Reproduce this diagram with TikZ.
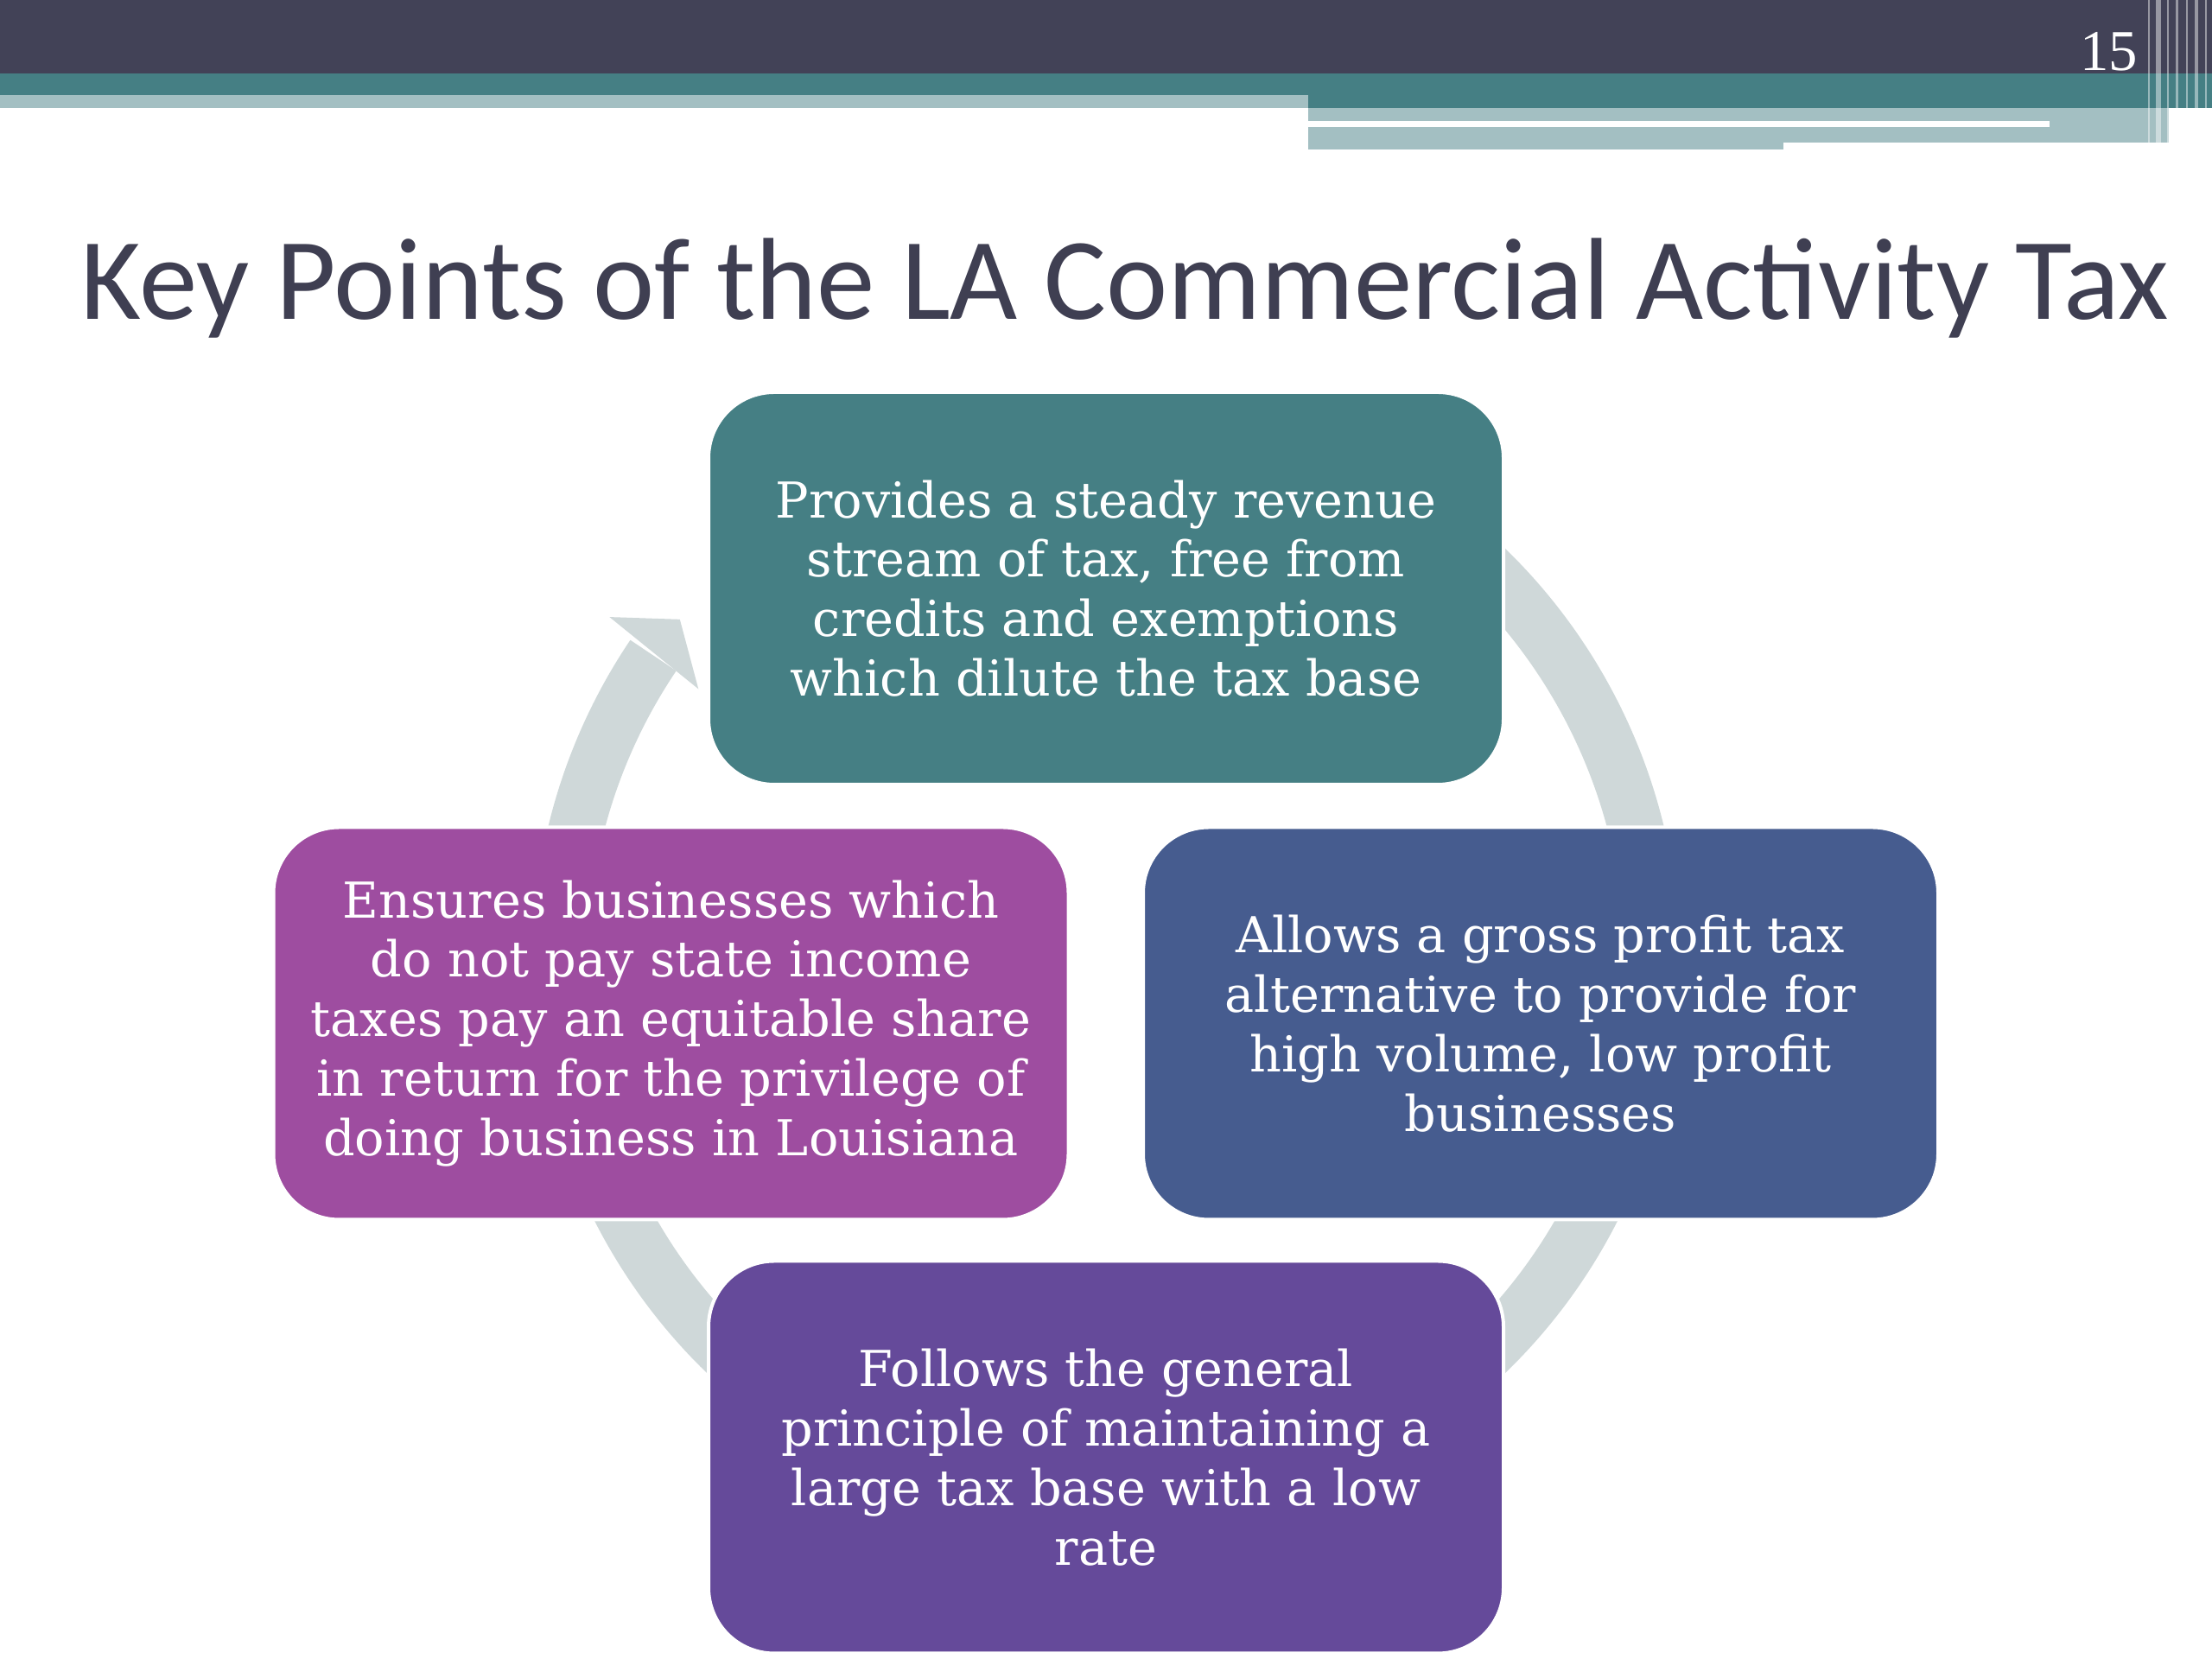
\documentclass[tikz,border=0pt]{standalone}
\usepackage{fontspec}
\setmainfont{DejaVu Serif}
\newfontfamily\titlefont{Carlito}
\newfontfamily\pagefont{Liberation Serif}
\usepackage{xcolor}
\definecolor{slatebar}{HTML}{424257}
\definecolor{tealbar}{HTML}{457F84}
\definecolor{paleteal}{HTML}{A3BFC2}
\definecolor{titlegrey}{HTML}{3F3F52}
\definecolor{ringgrey}{HTML}{CFD8D9}
\definecolor{tealbox}{HTML}{457F84}
\definecolor{plumbox}{HTML}{9E4DA0}
\definecolor{bluebox}{HTML}{465C8F}
\definecolor{violetbox}{HTML}{654A9A}

\begin{document}
\begin{tikzpicture}[line cap=butt,
  box/.style={rectangle,rounded corners=0.76cm,draw=white,line width=0.04cm,
    text=white,align=center,minimum width=9.2cm,minimum height=4.54cm,inner sep=0pt,
    font=\fontsize{16.3}{19.6}\selectfont},
  ring/.style={ringgrey,line width=0.64cm}]
\useasboundingbox (0,0) rectangle (25.6,19.2);
\fill[white] (0,0) rectangle (25.6,19.2);
% header bars
\fill[slatebar] (0,19.2) rectangle (25.6,18.35);
\fill[tealbar] (0,18.35) rectangle (25.6,18.10);
\fill[paleteal] (0,18.10) rectangle (15.14,17.95);
\fill[tealbar] (15.14,18.10) rectangle (25.6,17.95);
\fill[paleteal] (15.14,17.95) rectangle (25.1,17.47);
\fill[white] (15.14,17.80) rectangle (23.72,17.73);
\fill[white] (20.64,17.55) rectangle (25.1,17.47);
\foreach \x/\w in {24.86/0.02,24.95/0.06,25.08/0.02,25.18/0.03,25.30/0.02,25.40/0.04,25.52/0.02}
  \fill[white,opacity=0.45] (\x,19.2) rectangle ++(\w,-1.73);
\node[anchor=base east,inner sep=0pt,text=white,font=\pagefont\fontsize{19}{19}\selectfont]
  (pagenum) at (24.75,18.38) {15};
\node[anchor=base west,inner sep=0pt,text=titlegrey,font=\titlefont\fontsize{38.4}{40}\selectfont]
  (title) at (0.93,15.50) {Key Points of the LA Commercial Activity Tax};
% circular arrow behind the boxes
\coordinate (hub) at (12.80,8.08);
\begin{scope}[shift={(hub)}]
\draw[ring] (75:6.32) arc[start angle=75,end angle=-214,radius=6.32];
\fill[ringgrey] (145.3:6.99) -- (141.3:6.32) -- (146.3:5.67) -- cycle;
\end{scope}
% the four points
\node[box,fill=tealbox] (steady) at (12.80,12.39)
  {Provides a steady revenue\\stream of tax, free from\\credits and exemptions\\which dilute the tax base};
\node[box,fill=bluebox] (grossprofit) at (17.83,7.355)
  {Allows a gross profit tax\\alternative to provide for\\high volume, low profit\\businesses};
\node[box,fill=violetbox] (lowrate) at (12.80,2.335)
  {Follows the general\\principle of maintaining a\\large tax base with a low\\rate};
\node[box,fill=plumbox] (equity) at (7.765,7.355)
  {Ensures businesses which\\do not pay state income\\taxes pay an equitable share\\in return for the privilege of\\doing business in Louisiana};
\end{tikzpicture}
\end{document}
